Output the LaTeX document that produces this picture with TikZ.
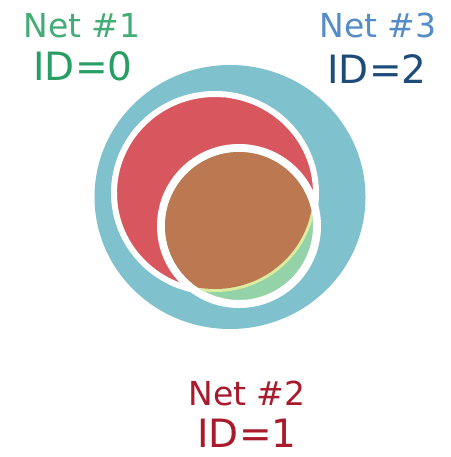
\documentclass[tikz,border=0pt]{standalone}
\usepackage{fontspec}
\setmainfont{DejaVu Sans}
\definecolor{netblue}{RGB}{127,194,206}
\definecolor{netred}{RGB}{216,87,95}
\definecolor{netgreen}{RGB}{148,210,168}
\definecolor{netbrown}{RGB}{188,120,80}
\definecolor{netyellow}{RGB}{218,236,160}
\definecolor{txtgreenA}{RGB}{68,172,118}
\definecolor{txtgreenB}{RGB}{40,158,100}
\definecolor{txtblueA}{RGB}{84,140,200}
\definecolor{txtblueB}{RGB}{30,76,122}
\definecolor{txtred}{RGB}{168,26,44}
\tikzset{
  netlabel/.style={anchor=base, inner sep=0pt, text depth=0pt, font=\fontsize{33}{33}\selectfont},
  idlabel/.style={anchor=base, inner sep=0pt, text depth=0pt, font=\fontsize{39}{39}\selectfont},
}
\begin{document}
\begin{tikzpicture}[x=1pt,y=-1pt]
\useasboundingbox[fill=white] (0,0) rectangle (450,457);
% Net #3 (blue)
\fill[netblue] (230,197) ellipse[x radius=135.5, y radius=132];
% Net #2 (red) with white rim
\draw[white, line width=6, fill=netred] (215,193) ellipse[x radius=101, y radius=99];
% Net #1 (green) with white rim
\draw[white, line width=8, fill=netgreen] (239,226) circle[radius=78];
% overlap region
\begin{scope}
  \clip (239,226) circle[radius=74];
  \draw[netyellow, line width=6] (215,193) ellipse[x radius=98, y radius=96];
  \fill[netbrown] (215,193) ellipse[x radius=98, y radius=96];
\end{scope}
% labels
\node[netlabel, text=txtgreenA] (n1) at (82,38) {Net \#1};
\node[idlabel, text=txtgreenB] (i1) at (83,81) {ID=0};
\node[netlabel, text=txtblueA] (n3) at (378,38) {Net \#3};
\node[idlabel, text=txtblueB] (i3) at (377,84) {ID=2};
\node[netlabel, text=txtred] (n2) at (247,405) {Net \#2};
\node[idlabel, text=txtred] (i2) at (247,447) {ID=1};
\end{tikzpicture}
\end{document}
